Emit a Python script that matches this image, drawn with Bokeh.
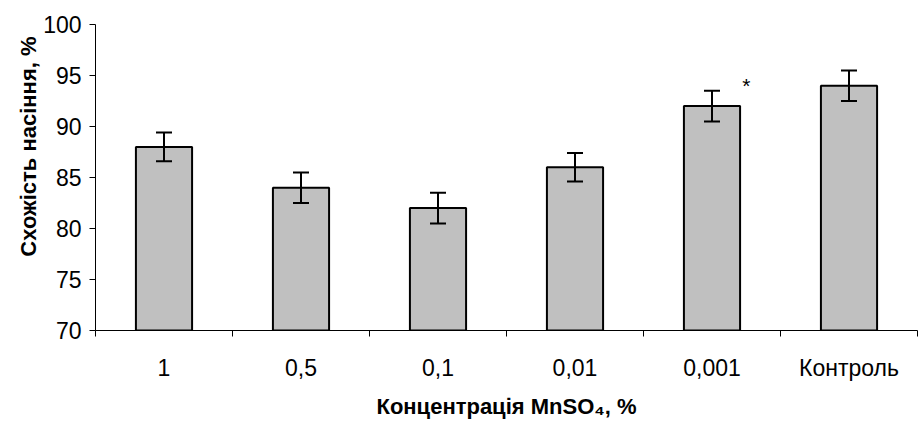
import math
from bokeh.plotting import figure
from bokeh.models import ColumnDataSource, FixedTicker, Whisker, Title
from bokeh.core.properties import value
from bokeh.embed import file_html
from bokeh.resources import INLINE

categories = ["1", "0,5", "0,1", "0,01", "0,001", "Контроль"]
germination = [88.0, 84.0, 82.0, 86.0, 92.0, 94.0]
errors = [1.4, 1.5, 1.5, 1.4, 1.5, 1.5]
y_ticks = [70, 75, 80, 85, 90, 95, 100]
star_index = 4

xc = [i + 0.5 for i in range(len(categories))]
src = ColumnDataSource(dict(
    x=xc, top=germination,
    lo=[v - e for v, e in zip(germination, errors)],
    hi=[v + e for v, e in zip(germination, errors)],
))

p = figure(width=918, height=421, x_range=(0, 6), y_range=(70, 100),
           output_backend="svg", toolbar_location=None,
           min_border_left=95, min_border_right=1, min_border_top=24, min_border_bottom=91)
p.outline_line_color = None
p.grid.grid_line_color = None
p.background_fill_color = "white"

p.vbar(x="x", top="top", bottom=70, width=0.41, source=src,
       fill_color="#c0c0c0", line_color="black", line_width=2)
wh = Whisker(base="x", lower="lo", upper="hi", source=src,
             line_color="black", line_width=2, level="annotation")
wh.upper_head.size = 16
wh.lower_head.size = 16
wh.upper_head.line_width = 2
wh.lower_head.line_width = 2
p.add_layout(wh)

p.text(x=[xc[star_index] + 0.25], y=[germination[star_index] + 2.0], text=["*"],
       text_font=value("Liberation Sans"), text_font_size="21px",
       text_align="center", text_baseline="middle", text_color="black")

# x axis
xt = FixedTicker(ticks=xc, minor_ticks=list(range(7)))
p.xaxis.ticker = xt
p.xaxis.major_label_overrides = {x: c for x, c in zip(xc, categories)}
p.xaxis.major_tick_line_color = None
p.xaxis.major_tick_out = 0
p.xaxis.major_tick_in = 0
p.xaxis.minor_tick_out = 6
p.xaxis.minor_tick_in = 0
p.xaxis.minor_tick_line_color = "black"
p.xaxis.axis_line_color = "black"
p.xaxis.major_label_text_font = "Liberation Sans"
p.xaxis.major_label_text_font_size = "23px"
p.xaxis.major_label_text_color = "black"
p.xaxis.major_label_standoff = 18
p.xaxis.axis_label = "Концентрація MnSO₄, %"
p.xaxis.axis_label_text_font = "Liberation Sans"
p.xaxis.axis_label_text_font_style = "bold"
p.xaxis.axis_label_text_font_size = "22px"
p.xaxis.axis_label_text_color = "black"
p.xaxis.axis_label_standoff = 10

# y axis
p.yaxis.ticker = FixedTicker(ticks=y_ticks, minor_ticks=[])
p.yaxis.major_tick_out = 6
p.yaxis.major_tick_in = 0
p.yaxis.major_tick_line_color = "black"
p.yaxis.axis_line_color = "black"
p.yaxis.major_label_text_font = "Liberation Sans"
p.yaxis.major_label_text_font_size = "23px"
p.yaxis.major_label_text_color = "black"
p.yaxis.major_label_standoff = 8

ytitle = Title(text="Схожість насіння, %", align="right", offset=12,
               text_font="Liberation Sans", text_font_style="bold",
               text_font_size="22px", text_color="black", standoff=0)
p.add_layout(ytitle, "left")

open("out.html", "w").write(file_html(p, INLINE))
